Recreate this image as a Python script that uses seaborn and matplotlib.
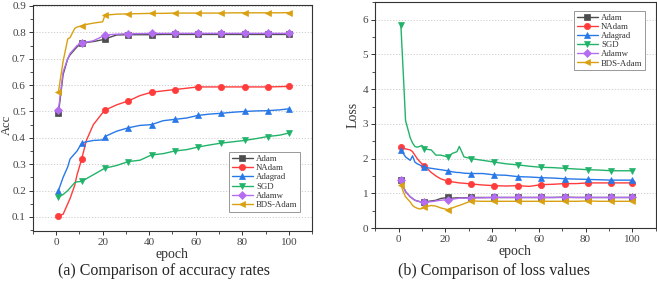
import numpy as np
import pandas as pd
import matplotlib
matplotlib.use("Agg")
import matplotlib.pyplot as plt
import seaborn as sns
from matplotlib.ticker import MultipleLocator, FormatStrFormatter

sns.set_theme(style="white")
plt.rcParams['font.family'] = ['Liberation Serif', 'DejaVu Serif']

names = ["Adam", "NAdam", "Adagrad", "SGD", "Adamw", "BDS-Adam"]
colors = ["#4d4d4d", "#ff3b3b", "#2878e8", "#22b36a", "#b46cf0", "#d9a011"]
markers = ["s", "o", "^", "v", "D", "<"]

# ---- accuracy data ----
acc_epochs = [1, 3, 5, 6, 8, 9, 11, 13, 16, 20, 21, 26, 31, 36, 41, 46, 51, 56, 61, 66, 71, 76, 81, 86, 91, 96, 100]
acc_adam = [0.493, 0.64, 0.70, 0.715, 0.735, 0.745, 0.758, 0.762, 0.765, 0.772, 0.775, 0.79, 0.791, 0.791, 0.791, 0.792, 0.792, 0.792, 0.792, 0.792, 0.792, 0.792, 0.792, 0.792, 0.792, 0.792, 0.792]
acc_nadam = [0.105, 0.11, 0.15, 0.17, 0.22, 0.26, 0.32, 0.39, 0.45, 0.495, 0.505, 0.525, 0.54, 0.56, 0.573, 0.578, 0.583, 0.588, 0.593, 0.593, 0.593, 0.593, 0.593, 0.593, 0.593, 0.594, 0.595]
acc_adagrad = [0.20, 0.25, 0.29, 0.32, 0.34, 0.35, 0.38, 0.385, 0.39, 0.392, 0.405, 0.425, 0.438, 0.447, 0.45, 0.465, 0.47, 0.475, 0.485, 0.49, 0.493, 0.497, 0.50, 0.502, 0.503, 0.506, 0.51]
acc_sgd = [0.175, 0.185, 0.20, 0.21, 0.23, 0.233, 0.235, 0.245, 0.26, 0.28, 0.285, 0.295, 0.31, 0.315, 0.335, 0.34, 0.35, 0.355, 0.365, 0.373, 0.38, 0.385, 0.39, 0.397, 0.405, 0.41, 0.418]
acc_adamw = [0.505, 0.65, 0.70, 0.72, 0.74, 0.75, 0.76, 0.763, 0.768, 0.785, 0.79, 0.793, 0.795, 0.795, 0.796, 0.796, 0.796, 0.796, 0.796, 0.796, 0.796, 0.796, 0.796, 0.796, 0.796, 0.796, 0.796]
acc_bds = [0.575, 0.69, 0.775, 0.78, 0.815, 0.82, 0.825, 0.83, 0.835, 0.84, 0.865, 0.869, 0.87, 0.871, 0.872, 0.872, 0.873, 0.873, 0.873, 0.873, 0.873, 0.874, 0.874, 0.874, 0.874, 0.874, 0.875]

# ---- loss data ----
loss_epochs = [1, 2, 3, 5, 6, 7, 8, 9, 10, 11, 14, 16, 18, 21, 23, 25, 26, 28, 31, 36, 41, 46, 51, 56, 61, 66, 71, 76, 81, 86, 91, 96, 100]
loss_adam = [1.38, 1.2, 1.05, 0.9, 0.85, 0.8, 0.78, 0.76, 0.75, 0.75, 0.78, 0.8, 0.85, 0.88, 0.86, 0.87, 0.87, 0.87, 0.88, 0.88, 0.88, 0.88, 0.88, 0.88, 0.88, 0.88, 0.89, 0.88, 0.88, 0.88, 0.88, 0.88, 0.88]
loss_nadam = [2.33, 2.3, 2.28, 2.25, 2.2, 2.1, 2.0, 1.92, 1.85, 1.8, 1.6, 1.5, 1.42, 1.35, 1.33, 1.31, 1.3, 1.29, 1.27, 1.24, 1.22, 1.21, 1.22, 1.2, 1.25, 1.26, 1.28, 1.28, 1.3, 1.3, 1.3, 1.3, 1.3]
loss_adagrad = [2.25, 2.15, 2.05, 1.95, 2.08, 1.9, 1.85, 1.82, 1.78, 1.75, 1.72, 1.7, 1.68, 1.65, 1.62, 1.6, 1.6, 1.58, 1.57, 1.57, 1.53, 1.52, 1.48, 1.47, 1.45, 1.44, 1.42, 1.41, 1.4, 1.39, 1.38, 1.38, 1.38]
loss_sgd = [5.85, 4.5, 3.1, 2.6, 2.45, 2.35, 2.33, 2.35, 2.38, 2.28, 2.25, 2.1, 2.1, 2.05, 2.15, 2.2, 2.35, 2.05, 2.0, 1.95, 1.9, 1.85, 1.82, 1.78, 1.75, 1.74, 1.72, 1.7, 1.68, 1.67, 1.65, 1.65, 1.65]
loss_adamw = [1.38, 1.2, 1.05, 0.9, 0.85, 0.8, 0.78, 0.76, 0.75, 0.74, 0.76, 0.78, 0.8, 0.82, 0.83, 0.85, 0.86, 0.86, 0.87, 0.87, 0.88, 0.88, 0.88, 0.88, 0.88, 0.88, 0.88, 0.88, 0.88, 0.88, 0.88, 0.88, 0.88]
loss_bds = [1.25, 1.05, 0.9, 0.75, 0.65, 0.6, 0.57, 0.55, 0.56, 0.6, 0.65, 0.63, 0.58, 0.53, 0.58, 0.63, 0.65, 0.7, 0.78, 0.77, 0.77, 0.77, 0.77, 0.77, 0.77, 0.77, 0.77, 0.77, 0.78, 0.77, 0.77, 0.77, 0.77]

acc_series = [acc_adam, acc_nadam, acc_adagrad, acc_sgd, acc_adamw, acc_bds]
loss_series = [loss_adam, loss_nadam, loss_adagrad, loss_sgd, loss_adamw, loss_bds]
marker_epochs = [1, 11, 21, 31, 41, 51, 61, 71, 81, 91, 100]

fig = plt.figure(figsize=(6.57, 2.89), dpi=100)
ax1 = fig.add_axes([0.050, 0.201, 0.425, 0.782])
ax2 = fig.add_axes([0.571, 0.211, 0.427, 0.783])


def draw(ax, epochs, series):
    idx = [epochs.index(e) for e in marker_epochs]
    for name, vals, c, m in zip(names, series, colors, markers):
        df = pd.DataFrame({"epoch": epochs, "v": vals})
        ms = 4.5 if m in ("s", "o") else 5
        if m == "D":
            ms = 4
        sns.lineplot(data=df, x="epoch", y="v", ax=ax, color=c, marker=m,
                     markevery=idx, markersize=ms, linewidth=1.0,
                     markeredgewidth=0.5, markeredgecolor=c, label=name)
    ax.set_xlim(-10, 110)
    ax.xaxis.set_major_locator(MultipleLocator(20))
    ax.xaxis.set_minor_locator(MultipleLocator(10))
    for s in ax.spines.values():
        s.set_color("#333333")
        s.set_linewidth(0.8)
    ax.tick_params(which="both", direction="out", top=False, right=False,
                   labelsize=8, colors="#333333", labelcolor="#444444",
                   bottom=True, left=True, pad=2)
    ax.tick_params(which="major", length=3, width=0.7)
    ax.tick_params(which="minor", length=2, width=0.6)
    ax.grid(axis="y", which="major", linestyle=(0, (1.5, 2)), color="#c8c8c8", linewidth=0.6)
    ax.set_xlabel("epoch", fontsize=10, labelpad=1, color="#333333")
    leg = ax.legend(fontsize=6.3, frameon=True, fancybox=False, framealpha=1,
                    edgecolor="#888888", handlelength=2.4, handletextpad=0.4,
                    labelspacing=0.12, borderpad=0.3, borderaxespad=0.4)
    leg.get_frame().set_linewidth(0.6)
    for t in leg.get_texts():
        t.set_color("#333333")
    return leg


leg1 = draw(ax1, acc_epochs, acc_series)
ax1.set_ylim(0.047, 0.904)
ax1.yaxis.set_major_locator(MultipleLocator(0.1))
ax1.yaxis.set_minor_locator(MultipleLocator(0.05))
ax1.yaxis.set_major_formatter(FormatStrFormatter("%.1f"))
ax1.set_ylabel("Acc", fontsize=9, color="#333333")
ax1.yaxis.set_label_coords(-0.07, 0.47)
leg1.set_bbox_to_anchor((0.97, 0.07, 0, 0), transform=ax1.transAxes)
leg1._loc = 4

leg2 = draw(ax2, loss_epochs, loss_series)
ax2.set_ylim(0, 6.52)
ax2.yaxis.set_major_locator(MultipleLocator(1))
ax2.yaxis.set_minor_locator(MultipleLocator(0.5))
ax2.set_ylabel("Loss", fontsize=10, color="#333333")
ax2.yaxis.set_label_coords(-0.055, 0.5)
leg2.set_bbox_to_anchor((0.975, 0.975, 0, 0), transform=ax2.transAxes)
leg2._loc = 1

fig.text(0.25, 0.062, "(a) Comparison of accuracy rates", ha="center", va="center", fontsize=11.5)
fig.text(0.752, 0.062, "(b) Comparison of loss values", ha="center", va="center", fontsize=11.5)

fig.savefig("out.png", dpi=100)
